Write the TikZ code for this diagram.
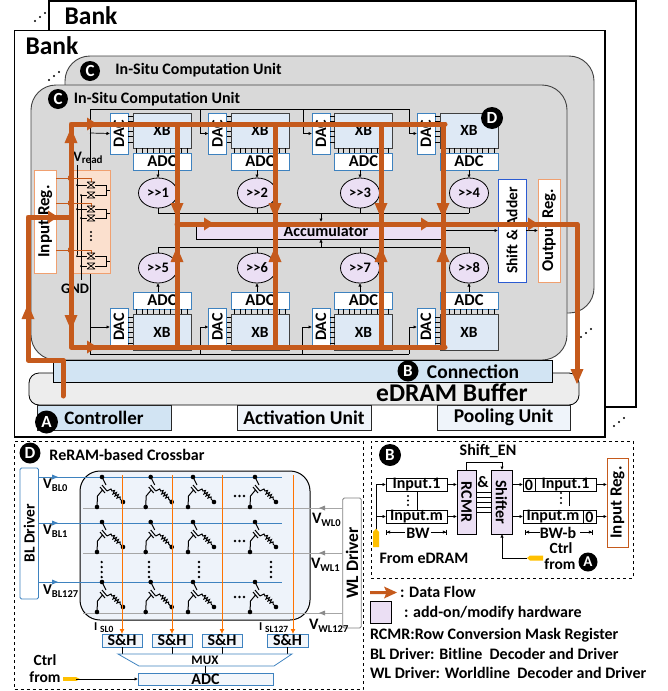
\documentclass[tikz,border=0pt]{standalone}
\usepackage{fontspec}
\usepackage{graphicx}
\setmainfont{Carlito}
\usetikzlibrary{shapes.geometric,arrows.meta,calc}
\definecolor{flowc}{HTML}{C55A1C}
\definecolor{bluebd}{HTML}{3E82BF}
\definecolor{purp}{HTML}{EBDFF4}
\definecolor{xbfill}{HTML}{DEE9F5}
\definecolor{orbd}{HTML}{F0A070}
\definecolor{orfill}{HTML}{FBE0CE}
\definecolor{hatch}{HTML}{D2E4F3}
\definecolor{hatchl}{HTML}{EFF4FA}
\definecolor{crossf}{HTML}{EEF3FA}
\definecolor{tagc}{HTML}{FFC000}
\newcommand{\fs}[1]{\fontsize{#1}{#1}\selectfont}
\newcommand{\rt}[1]{\rotatebox{90}{#1}}
\newcommand{\rtm}[1]{\rotatebox{-90}{#1}}
\newcommand{\sbs}[1]{\raisebox{-2.5pt}{\fs{10.5}#1}}
% name, x1, y1, x2, y2, style, text
\newcommand{\bx}[7]{\node[bxs,#6,minimum width={(#4-#2)*1pt},minimum height={(#5-#3)*1pt}] (#1) at ({(#2+#4)/2},{(#3+#5)/2}) {#7};}
% name, letter, x, y, radius, font size
\newcommand{\badge}[6]{\node[circle,fill=black,text=white,inner sep=0pt,outer sep=0pt,minimum size=#5*2pt,font=\bfseries\fs{#6}] (#1) at (#3,#4) {#2};}
\newcommand{\threedots}[2]{\fill (#1-5,#2+4) circle (1.2) (#1,#2) circle (1.2) (#1+5,#2-4) circle (1.2);}
\newcommand{\oup}[2]{\fill[flowc] (#1-6.5,#2+15)--(#1,#2)--(#1+6.5,#2+15)--cycle;}
\newcommand{\odn}[2]{\fill[flowc] (#1-6.5,#2-15)--(#1,#2)--(#1+6.5,#2-15)--cycle;}
\newcommand{\ort}[2]{\fill[flowc] (#1-10,#2-6.5)--(#1,#2)--(#1-10,#2+6.5)--cycle;}
\newcommand{\tgate}[2]{\draw[line width=.7pt] (#1-4,#2-3)--(#1+4,#2+3) (#1-4,#2+3)--(#1+4,#2-3) (#1-4,#2-3)--(#1+4,#2-3) (#1-4,#2+3)--(#1+4,#2+3);}
\newcommand{\tpair}[2]{\tgate{91}{#1}\tgate{91}{#2}
 \draw[line width=.7pt] (77,#1)--(87,#1) (81,#2)--(87,#2) (95,#1)--(106,#1)--(106,#2)--(95,#2) (106,{(#1+#2)/2})--(110,{(#1+#2)/2});
 \fill (77,#1) circle (1) (81,#2) circle (1);}
\newcommand{\cell}[2]{\begin{scope}[shift={(#1,#2)}]
 \fill (0,0) circle (2.3) (-5,30) circle (2.3) (21,25) circle (2.3);
 \draw[line width=1pt] (0,0)--(4,8) (0,8)--(5,14) (-2,10)--(3,16) (-5,30)--(-4.5,19)--(0.5,13) (5,14)--(9,12)--(10,14)--(12.5,13.5)--(11,17)--(14.5,15.5)--(13,19)--(16.5,17.5)--(15,21)--(18,20)--(18,22)--(21,25);
 \end{scope}}
\tikzset{
 bxs/.style={draw,inner sep=0pt,outer sep=0pt,font=\bfseries},
 blueb/.style={draw=bluebd,fill=white,line width=.8pt},
 xbb/.style={draw=black!75,fill=xbfill,line width=.9pt,font=\bfseries\fs{15.5}},
 adcb/.style={blueb,font=\bfseries\fs{16.5}},
 dacb/.style={blueb,font=\bfseries\fs{16}},
 shft/.style={draw=black,fill=purp,line width=.8pt,ellipse,inner sep=0pt,outer sep=0pt,minimum width=39pt,minimum height=30pt,font=\bfseries\fs{14.5}},
 flow/.style={draw=flowc,line width=5pt,line cap=round,line join=round},
 thinw/.style={draw=black,line width=.7pt,-{Latex[length=3.5pt,width=3.5pt]}},
 wire/.style={draw=black,line width=.7pt},
 lbl/.style={inner sep=0pt,outer sep=0pt,font=\bfseries},
 bw/.style={draw=black,line width=.7pt},
}
\begin{document}
\begin{tikzpicture}[x=1pt,y=-1pt]
\useasboundingbox (0,0) rectangle (667,691);
% ---- banks
\bx{bankB}{49}{1}{636}{407}{draw=black,line width=1.2pt}{}
\node[lbl,font=\bfseries\fs{25.5}] (bankBt) at (91,16) {Bank};
\threedots{40}{17}
\bx{bankF}{14.5}{30.5}{605}{437}{draw=black,fill=white,line width=1.2pt}{}
\node[lbl,font=\bfseries\fs{25.5}] (bankFt) at (52,46) {Bank};
\threedots{54}{76}
\threedots{586}{333}
\threedots{619}{422}
% ---- units
\node[bxs,draw=black!75,fill=black!15,line width=.9pt,rounded corners=25pt,minimum width=529pt,minimum height=257pt] (unitB) at (329.5,184.5) {};
\node[bxs,draw=black!75,fill=black!15,line width=.9pt,rounded corners=25pt,minimum width=536pt,minimum height=275pt] (unitF) at (299,222.5) {};
\badge{bdgC1}{C}{90}{71}{10}{17}
\node[lbl,font=\bfseries\fs{16}] (tB) at (198.5,70) {In-Situ Computation Unit};
\badge{bdgC2}{C}{58}{99}{10}{17}
\node[lbl,font=\bfseries\fs{16}] (tF) at (157,99) {In-Situ Computation Unit};
% ---- buffer, connection, units
\node[bxs,draw=black,fill=black!7,line width=.8pt,rounded corners=10pt,minimum width=550pt,minimum height=32pt] (edram) at (304,389) {};
\bx{conn}{53.5}{360}{552}{382}{draw=black,fill=hatch,line width=.8pt}{}
\badge{bdgB1}{B}{408}{371}{10.5}{17}
\node[lbl,font=\bfseries\fs{19.5}] (connT) at (473,372) {Connection};
\node[lbl,font=\bfseries\fs{25.5}] (edramT) at (452,393) {eDRAM Buffer};
\bx{ctrl}{37}{405}{171}{430}{draw=black!85,fill=hatch,line width=.8pt}{}
\node[lbl,font=\bfseries\fs{19}] (ctrlT) at (104,418) {Controller};
\badge{bdgA1}{A}{46.5}{422}{11.5}{17}
\bx{act}{237}{405}{371}{430}{draw=black!85,fill=hatchl,line width=.8pt,font=\bfseries\fs{19.5}}{Activation Unit}
\bx{pool}{437}{405}{570}{430}{draw=black!85,fill=hatchl,line width=.8pt,font=\bfseries\fs{19.5}}{Pooling Unit}
% ---- thin buses
\coordinate (busTL) at (90,109); \coordinate (busTR) at (409,109);
\coordinate (busBL) at (90,354); \coordinate (busBR) at (409,354);
\draw[wire] (90,170)--(busTL)--(busTR);
\draw[wire] (90,273)--(busBL)--(busBR);
% ---- columns
\foreach \n/\dl/\xl/\ex in {1/110/133/158,2/208.5/231/257,3/312/334.5/360,4/417/440/469}{
 \pgfmathsetmacro{\dr}{\dl+18}
 \pgfmathsetmacro{\xr}{\xl+58}
 \bx{dacT\n}{\dl}{113}{\dr}{154}{dacb}{\rt{DAC}}
 \bx{xbT\n}{\xl}{113}{\xr}{148}{xbb}{XB}
 \bx{adcT\n}{\xl}{153}{\xr}{170}{adcb}{ADC}
 \node[shft] (ellT\n) at (\ex,193) {>{}>\n};
 \bx{dacB\n}{\dl}{308}{\dr}{346}{dacb}{\rt{DAC}}
 \bx{xbB\n}{\xl}{314}{\xr}{350}{xbb}{XB}
 \bx{adcB\n}{\xl}{292}{\xr}{309}{adcb}{ADC}
 \pgfmathtruncatemacro{\m}{\n+4}
 \node[shft] (ellB\n) at (\ex,268) {>{}>\m};
 \foreach \k in {0,1,...,5}{
  \draw[wire] (\dr,116+5.2*\k)--(\xl,116+5.2*\k);
  \draw[wire] (\dr,317+5.2*\k)--(\xl,317+5.2*\k);
 }
 \foreach \k in {0,1,...,9}{
  \draw[wire] (\xl+3.5+5.6*\k,148)--(\xl+3.5+5.6*\k,153);
  \draw[wire] (\xl+3.5+5.6*\k,309)--(\xl+3.5+5.6*\k,314);
 }
 \draw[thinw] (ellT\n.north |- adcT\n.south)--(ellT\n.north);
 \draw[thinw] (ellB\n.south |- adcB\n.north)--(ellB\n.south);
 \draw[wire] (ellT\n.south)--(\ex,213);
 \draw[wire] (ellB\n.north)--(\ex,247);
}
\draw[thinw] (90,133)--(dacT1.west);
\draw[thinw] (90,327)--(dacB1.west);
\draw[thinw] (200,109)--(200,133.5)--(dacT2.west);
\draw[thinw] (303,109)--(303,133.5)--(dacT3.west);
\draw[thinw] (409,109)--(409,133.5)--(dacT4.west);
\draw[thinw] (200,354)--(200,327)--(dacB2.west);
\draw[thinw] (302,354)--(302,327)--(dacB3.west);
\draw[thinw] (busBR)--(409,327)--(dacB4.west);
\bx{acc}{196}{222}{441}{239}{draw=black,fill=purp,line width=.8pt,font=\bfseries\fs{16}}{\hspace*{15pt}Accumulator}
\draw[wire] (158,213)--(469,213);
\draw[wire] (158,247)--(469,247);
\draw[thinw] (321,213)--(321,222);
\draw[thinw] (321,247)--(321,239);
\bx{sa}{498}{179}{526}{282}{draw=bluebd!70!blue,fill=white,line width=.9pt,font=\bfseries\fs{15.5}}{\rt{Shift \& Adder}}
\bx{outr}{538}{179}{560}{282}{draw=orbd,fill=white,line width=.9pt,font=\bfseries\fs{16.5}}{\rt{Output Reg.}}
\draw[thinw] (acc.east)--(sa.west|-acc.east);
\draw[thinw] (sa.east|-acc.east)--(outr.west|-acc.east);
% ---- input reg and drivers
\bx{inr}{34.5}{170}{56}{273}{draw=orbd,fill=white,line width=.9pt,font=\bfseries\fs{17}}{\rt{Input Reg.}}
\bx{orb}{73}{170}{110}{273}{draw=orbd,fill=orfill,line width=.8pt}{}
\draw[wire,line width=.9pt] (77,165)--(77,255);
\draw[wire] (81,195)--(81,280);
\foreach \yy in {178,203,250}{
 \draw[draw=flowc,line width=.8pt,-{Latex[length=5pt,width=5pt]}] (56,\yy)--(73,\yy);
 \draw[draw=flowc,line width=.8pt] (73,\yy)--(91,\yy)--(91,\yy+4);
}
\tpair{185}{195}
\tpair{209}{218}
\tpair{256}{266}
\fill (91,232) circle (1.2) (91,236) circle (1.2) (91,240) circle (1.2);
\node[lbl,font=\bfseries\fs{14.5}] (vread) at (88,158) {V\raisebox{-2pt}{\fs{11}read}};
\node[lbl,font=\bfseries\fs{14.5}] (gnd) at (75,289) {GND};
% ---- flows
\coordinate (ftl) at (71,124); \coordinate (ftr) at (445,124);
\coordinate (fbl) at (71,347); \coordinate (fbr) at (445,347);
\draw[flow] (63,396)--(63,360)--(28,360)--(28,217)--(71,217);
\draw[flow] (ftr)--(ftl)--(fbl)--(fbr);
\foreach \xx in {177,275,381,443}{\draw[flow,line cap=butt] (\xx,124)--(\xx,347);}
\draw[flow] (177,224)--(577,224)--(577,372);
\odn{577}{384}
\oup{28}{304} \oup{71}{128} \odn{71}{330}
\ort{97}{124} \ort{97}{347} \ort{58}{217} \ort{214}{224} \ort{431}{224} \ort{538}{224}
\foreach \xx in {177,275,381,443}{\odn{\xx}{218}\oup{\xx}{247}}
\badge{bdgD1}{D}{492}{118}{11}{17}
% ---- panel D
\bx{panD}{14.5}{441}{363}{689}{draw=black,dashed,line width=.7pt}{}
\badge{bdgD2}{D}{30}{453}{10.5}{17}
\node[lbl,font=\bfseries\fs{16}] (panDt) at (127,455) {ReRAM-based Crossbar};
\node[bxs,draw=black,fill=crossf,line width=1pt,rounded corners=20pt,minimum width=230pt,minimum height=149pt] (cross) at (195,545.5) {};
\node[bxs,draw=bluebd,fill=white,rounded corners=1.5pt,line width=.9pt,minimum width=18.5pt,minimum height=131pt,font=\bfseries\fs{15.5}] (bld) at (29.25,533.5) {\rt{BL Driver}};
\node[bxs,draw=black!50,fill=white,rounded corners=1.5pt,line width=.9pt,minimum width=18.5pt,minimum height=130pt,font=\bfseries\fs{17.5}] (wld) at (352,563) {\rt{WL Driver}};
\foreach \yy in {477,523,582}{
 \draw[draw=bluebd,line width=.8pt] (38.5,\yy)--(282,\yy);
 \fill[bluebd] (58,\yy)--(52,\yy-2.5)--(52,\yy+2.5)--cycle;
}
\node[lbl,anchor=west,font=\bfseries\fs{15}] (vb0) at (43,485) {V\sbs{BL0}};
\node[lbl,anchor=west,font=\bfseries\fs{15}] (vb1) at (43,531) {V\sbs{BL1}};
\node[lbl,anchor=west,font=\bfseries\fs{15}] (vb2) at (43,591) {V\sbs{BL127}};
\foreach \yy in {508,553,613}{
 \draw[draw=black!35,line width=.9pt] (83,\yy)--(343,\yy);
 \fill[black!45] (319,\yy)--(325,\yy-2.5)--(325,\yy+2.5)--cycle;
}
\node[lbl,anchor=west,font=\bfseries\fs{16}] (vw0) at (312,520) {V\sbs{WL0}};
\node[lbl,anchor=west,font=\bfseries\fs{16}] (vw1) at (311,565) {V\sbs{WL1}};
\node[lbl,anchor=west,font=\bfseries\fs{16}] (vw2) at (309,626) {V\sbs{WL127}};
\foreach \yy in {477,522,582}{
 \foreach \xx in {102,150.7,193,255}{\cell{\xx}{\yy}}
}
\foreach \yy in {496,541,597}{\fill (235,\yy) circle (1.3) (239.5,\yy) circle (1.3) (244,\yy) circle (1.3);}
\foreach \xx in {101.7,149,199,271}{\fill (\xx,562) circle (1.3) (\xx,567) circle (1.3) (\xx,572) circle (1.3) (\xx,577) circle (1.3);}
\foreach \n/\xa/\xb/\xo/\xm in {1/102/142/122/122,2/152/192/172/172,3/202/242/222/222,4/267/308/293/287}{
 \bx{sh\n}{\xa}{634}{\xb}{647}{draw=bluebd,fill=xbfill!40,line width=.9pt,font=\bfseries\fs{16}}{S\&H}
 \draw[draw=orange!90!red,line width=.8pt,-{Latex[length=5pt,width=5pt]}] (\xo,475)--(\xo,634);
 \draw[wire] (\xm,647)--(\xm,654);
}
\node[lbl,font=\bfseries\fs{12},anchor=west] (isl0) at (94,628) {I\hspace{3pt}\raisebox{-2pt}{\fs{9.5}SL0}};
\node[lbl,font=\bfseries\fs{12},anchor=west] (isl1) at (259,628) {I\hspace{3pt}\raisebox{-2pt}{\fs{9.5}SL127}};
\draw[draw=bluebd,line width=.8pt] (118,654)--(292,654)--(274,666)--(139,666)--cycle;
\node[lbl,font=\bfseries\fs{13}] (muxT) at (205,660) {MUX};
\bx{adcD}{138}{673}{273}{685}{draw=bluebd,fill=xbfill!40,line width=.9pt,font=\bfseries\fs{16}}{ADC}
\coordinate (muxB) at (205,666);
\draw[wire] (muxB)--(adcD.north-|muxB);
\node[lbl,font=\bfseries\fs{15.5}] (ctrlD) at (45,660.5) {Ctrl};
\node[lbl,font=\bfseries\fs{15.5}] (fromD) at (45,677) {from};
\bx{tagDn}{63}{677}{76}{681}{draw=none,fill=tagc}{}
\fill[tagc] (tagDn.north east)--(80,679)--(tagDn.south east)--cycle;
\draw[thinw,line width=.9pt] (tagDn.east)--(adcD.west);
% ---- panel B
\bx{panB}{371}{441}{633}{578}{draw=black,dashed,line width=.7pt}{}
\badge{bdgB2}{B}{390}{455}{11}{17}
\node[lbl,font=\bfseries\fs{16}] (sen) at (488,451) {Shift\_EN};
\bx{rcmr}{457}{470}{476}{534}{draw=black,fill=purp,line width=.9pt,font=\bfseries\fs{16}}{\rtm{RCMR}}
\bx{shf}{491}{470}{512}{534}{draw=black,fill=purp,line width=.9pt,font=\bfseries\fs{16}}{\rtm{Shifter}}
\draw[thinw] (rcmr.north)--(466.5,462)--(502,462)--(502,470);
\node[lbl,font=\bfseries\fs{16}] (amp) at (483,482) {\&};
\foreach \yy in {492,497,502,507,512}{\draw[wire] (476,\yy)--(491,\yy);}
\bx{i1}{386}{478}{447}{491}{draw=black,fill=white,line width=.9pt,font=\bfseries\fs{16}}{Input.1}
\bx{im}{386}{510}{447}{523}{draw=black,fill=white,line width=.9pt,font=\bfseries\fs{16}}{Input.m}
\draw[wire] (417,491)--(417,510);
\fill (408,496) circle (1.2) (408,500.5) circle (1.2) (408,505) circle (1.2);
\draw[thinw] (i1.east)--(rcmr.west|-i1.east);
\draw[thinw] (im.east)--(rcmr.west|-im.east);
\coordinate (tagB) at (376,532);
\draw[thinw] (tagB)--(376,484.5)--(i1.west);
\draw[thinw] (376,516.5)--(im.west);
\fill[tagc] (373,532)--(376,528.5)--(379,532)--(379,547)--(373,547)--cycle;
\draw[bw,{Bar[width=5pt,length=0pt]Latex[length=3.5pt,width=3.5pt]}-] (386,532)--(405,532);
\draw[bw,-{Latex[length=3.5pt,width=3.5pt]Bar[width=5pt,length=0pt]}] (431,532)--(447,532);
\node[lbl,font=\bfseries\fs{16}] (bwT) at (418,533) {BW};
\node[lbl,font=\bfseries\fs{16}] (fromE) at (424,558) {From eDRAM};
\bx{o1}{523}{478}{596}{491}{draw=black,fill=white,line width=.9pt}{}
\bx{om}{523}{510}{596}{523}{draw=black,fill=white,line width=.9pt}{}
\draw[wire,line width=.9pt] (535,478)--(535,491) (583,510)--(583,523);
\node[lbl,font=\bfseries\fs{16}] (o1a) at (529,485) {0};
\node[lbl,font=\bfseries\fs{16}] (o1b) at (565.5,485) {Input.1};
\node[lbl,font=\bfseries\fs{16}] (oma) at (553,517) {Input.m};
\node[lbl,font=\bfseries\fs{16}] (omb) at (589.5,517) {0};
\draw[wire] (569,491)--(569,506);
\fill (561,493) circle (1.2) (561,498) circle (1.2) (561,503) circle (1.2);
\bx{irg}{607}{458}{628}{547}{draw=flowc,fill=white,line width=1pt,font=\bfseries\fs{17}}{\rt{Input Reg.}}
\draw[thinw] (shf.east|-o1.west)--(o1.west);
\draw[thinw] (shf.east|-om.west)--(om.west);
\draw[thinw] (o1.east)--(irg.west|-o1.east);
\draw[thinw] (om.east)--(irg.west|-om.east);
\draw[bw,{Bar[width=5pt,length=0pt]Latex[length=3.5pt,width=3.5pt]}-] (525,532)--(540,532);
\draw[bw,-{Latex[length=3.5pt,width=3.5pt]Bar[width=5pt,length=0pt]}] (580,532)--(593,532);
\node[lbl,font=\bfseries\fs{16}] (bwbT) at (558,533) {BW-b};
\coordinate (tagS) at (527,558);
\draw[thinw] (tagS)--(502,558)--(502,534);
\fill[tagc] (527,558)--(530,555.5)--(543,555.5)--(543,560.5)--(530,560.5)--cycle;
\node[lbl,font=\bfseries\fs{15.5}] (ctrlS) at (561,548.5) {Ctrl};
\node[lbl,font=\bfseries\fs{15.5}] (fromS) at (560,564.5) {from};
\badge{bdgA2}{A}{588}{562}{9.5}{15}
% ---- legend
\fill[flowc] (370,591)--(386,591)--(384,586.5)--(397,592.5)--(384,598.5)--(386,594)--(370,594)--cycle;
\node[lbl,anchor=west,font=\bfseries\fs{16}] (lg1) at (400,592) {: Data Flow};
\bx{lgb}{370}{601}{391}{623}{draw=black,fill=purp,line width=.7pt}{}
\node[lbl,anchor=west,font=\bfseries\fs{16}] (lg2) at (404,613) {: add-on/modify hardware};
\node[lbl,anchor=west,font=\bfseries\fs{16}] (lg3) at (370,635) {RCMR:Row Conversion Mask Register};
\node[lbl,anchor=west,font=\bfseries\fs{16}] (lg4) at (370,654) {BL Driver: Bitline\ \ Decoder and Driver};
\node[lbl,anchor=west,font=\bfseries\fs{16}] (lg5) at (370,673) {WL Driver: Worldline\ \ Decoder and Driver};
\end{tikzpicture}
\end{document}
